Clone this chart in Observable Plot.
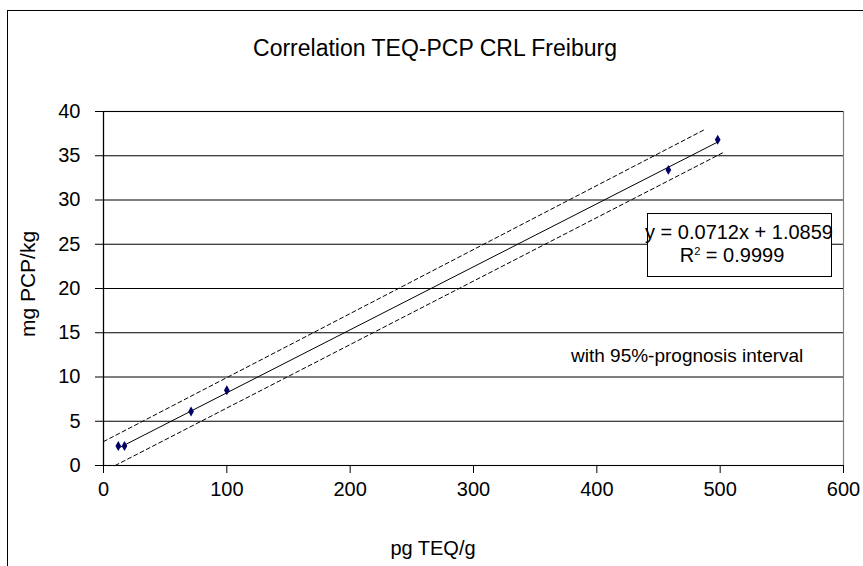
<!DOCTYPE html>
<html>
<head>
<meta charset="utf-8">
<script src="https://cdn.jsdelivr.net/npm/d3@7"></script>
<script src="https://cdn.jsdelivr.net/npm/@observablehq/plot@0.6"></script>
<style>
  html, body { margin: 0; padding: 0; background: #fff; overflow: hidden; }
  #wrap { position: relative; width: 863px; height: 566px; overflow: hidden; font-family: "Liberation Sans", Arial, sans-serif; color: #000; }
  #border { position: absolute; left: 7px; top: 10px; width: 900px; height: 600px; border-left: 1.5px solid #000; border-top: 1.5px solid #000; }
  #title { position: absolute; left: 0; top: 35px; width: 870px; text-align: center; font-size: 23px; }
  #chart { position: absolute; left: 0; top: 80px; }
  .lbl { position: absolute; white-space: nowrap; font-size: 20px; }
  #xlabel { left: 0; width: 866px; text-align: center; top: 537px; }
  #ylabel { left: 28px; top: 284px; transform: translate(-50%, -50%) rotate(-90deg); font-size: 21px; }
  #eqbox { position: absolute; left: 647px; top: 213px; width: 183px; height: 62px; border: 1px solid #000; background: #fff; }
  .eq { position: absolute; white-space: nowrap; font-size: 20px; transform: translate(-50%, -50%); }
  #note { position: absolute; left: 571px; top: 345px; font-size: 19px; white-space: nowrap; }
</style>
</head>
<body>
<div id="wrap">
  <div id="border"></div>
  <div id="title">Correlation TEQ-PCP CRL Freiburg</div>
  <div id="chart"></div>
  <div id="eqbox"></div>
  <div class="eq" style="left:739px; top:232px;">y = 0.0712x + 1.0859</div>
  <div class="eq" style="left:732px; top:255px;">R<sup style="font-size:11px; vertical-align: 7px;">2</sup> = 0.9999</div>
  <div id="note">with 95%-prognosis interval</div>
  <div id="xlabel" class="lbl">pg TEQ/g</div>
  <div id="ylabel" class="lbl">mg PCP/kg</div>
</div>
<script>
// measured data (pg TEQ/g vs mg PCP/kg)
const teq = [12, 17, 71, 100, 458, 498];
const pcp = [2.2, 2.2, 6.1, 8.5, 33.4, 36.8];

// regression line (read endpoints)
const fitX = [12, 498];
const fitY = [1.95, 36.55];

// 95% prognosis interval (read endpoints)
const upperX = [0, 488];
const upperY = [2.7, 38.0];
const lowerX = [9.5, 503];
const lowerY = [0, 35.4];

// ticks
const xTicks = [0, 100, 200, 300, 400, 500, 600];
const yTicks = [0, 5, 10, 15, 20, 25, 30, 35, 40];

const points = teq.map((x, i) => ({x, y: pcp[i]}));
const fit = fitX.map((x, i) => ({x, y: fitY[i]}));
const upper = upperX.map((x, i) => ({x, y: upperY[i]}));
const lower = lowerX.map((x, i) => ({x, y: lowerY[i]}));

const chart = Plot.plot({
  width: 863,
  height: 486,
  marginLeft: 103,
  marginRight: 20,
  marginTop: 31,
  marginBottom: 101,
  style: {fontFamily: '"Liberation Sans", Arial, sans-serif', fontSize: "20px", color: "#000", background: "transparent"},
  x: {domain: [0, 600], ticks: xTicks},
  y: {domain: [0, 40], ticks: yTicks},
  marks: [
    Plot.frame({stroke: "#808080", strokeWidth: 1.2}),
    Plot.ruleY(yTicks, {stroke: "#000", strokeWidth: 1.2}),
    Plot.ruleX([0], {stroke: "#000", strokeWidth: 1.2}),
    Plot.line(upper, {x: "x", y: "y", stroke: "#000", strokeWidth: 1, strokeDasharray: "4,3"}),
    Plot.line(lower, {x: "x", y: "y", stroke: "#000", strokeWidth: 1, strokeDasharray: "4,3"}),
    Plot.line(fit, {x: "x", y: "y", stroke: "#000", strokeWidth: 1}),
    Plot.dot(points, {x: "x", y: "y", symbol: "diamond", r: 3, fill: "#000066", stroke: "none"}),
    Plot.axisX(xTicks, {tickSize: 8, tickPadding: 8, label: null, stroke: "#000", fontSize: 20}),
    Plot.axisY(yTicks, {tickSize: 8, tickPadding: 15, label: null, stroke: "#000", fontSize: 20})
  ]
});
document.getElementById("chart").appendChild(chart);
</script>
</body>
</html>
